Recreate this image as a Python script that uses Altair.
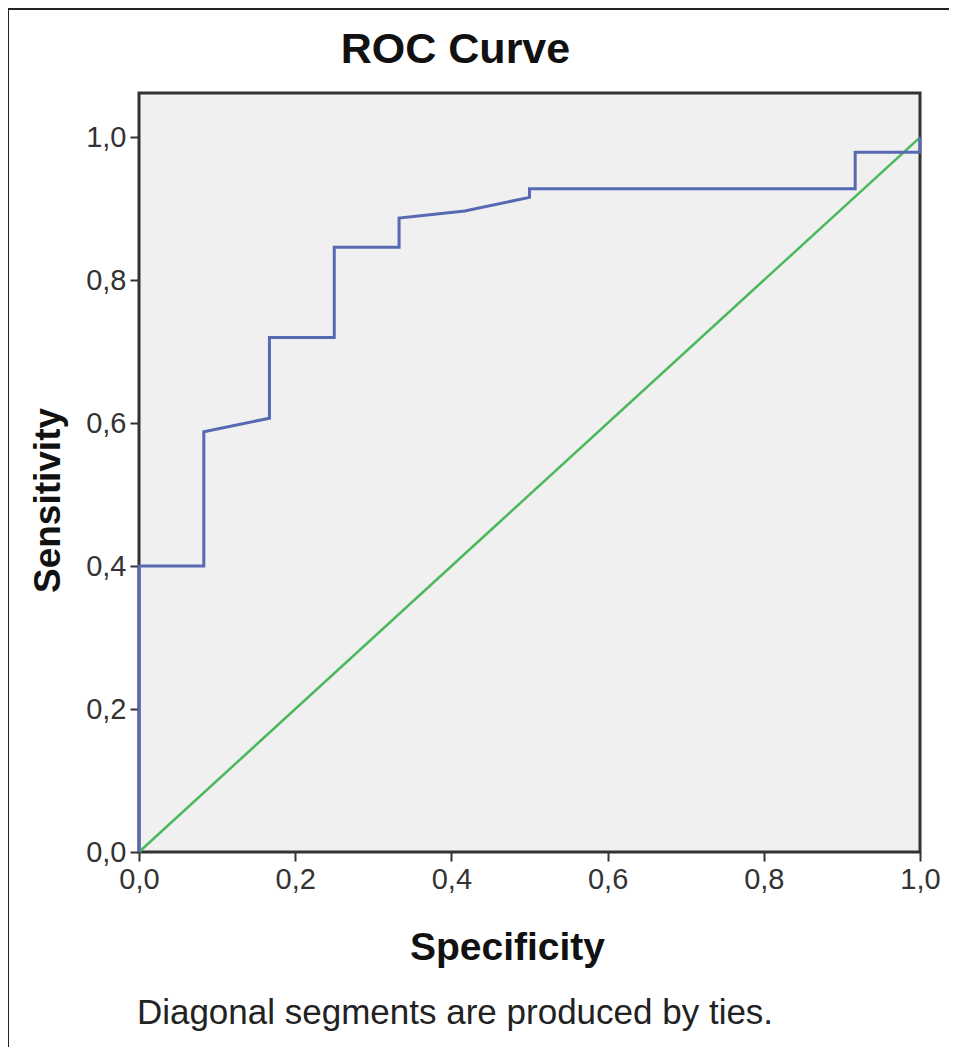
import altair as alt
import pandas as pd

# ROC curve vertices (x = specificity axis as drawn, y = sensitivity)
roc_x = [0.0, 0.0, 0.083, 0.083, 0.167, 0.167, 0.25, 0.25, 0.333, 0.333, 0.417, 0.5, 0.5, 0.917, 0.917, 1.0, 1.0]
roc_y = [0.0, 0.40, 0.40, 0.588, 0.607, 0.72, 0.72, 0.846, 0.846, 0.887, 0.897, 0.916, 0.928, 0.928, 0.979, 0.979, 1.0]

ref_x = [0.0, 1.0]
ref_y = [0.0, 1.0]

tick_values = [0.0, 0.2, 0.4, 0.6, 0.8, 1.0]
title_text = "ROC Curve"
x_title = "Specificity"
y_title = "Sensitivity"
footnote = "Diagonal segments are produced by ties."

roc_df = pd.DataFrame({"x": roc_x, "y": roc_y, "i": list(range(len(roc_x)))})
ref_df = pd.DataFrame({"x": ref_x, "y": ref_y, "i": [0, 1]})
note_df = pd.DataFrame({"t": [footnote]})

FONT = "Liberation Sans"
label_expr = "replace(format(datum.value, '.1f'), '.', ',')"

xs = alt.Scale(domain=[0, 1], nice=False, zero=False)
ys = alt.Scale(domain=[0, 1.062], nice=False, zero=False)

x_axis = alt.Axis(values=tick_values, labelExpr=label_expr, title=x_title, grid=False,
                  domain=False, tickColor="#333333", tickWidth=2, tickSize=9,
                  labelFont=FONT, labelFontSize=29, labelColor="#333333", labelPadding=4,
                  titleFont=FONT, titleFontSize=39, titleFontWeight="bold", titleColor="#111111",
                  titlePadding=34, titleX=368, labelFlush=False)
y_axis = alt.Axis(values=tick_values, labelExpr=label_expr, title=y_title, grid=False,
                  domain=False, tickColor="#333333", tickWidth=2, tickSize=9,
                  labelFont=FONT, labelFontSize=29, labelColor="#333333", labelPadding=4,
                  titleFont=FONT, titleFontSize=37, titleFontWeight="bold", titleColor="#111111",
                  titlePadding=18, titleY=407, labelFlush=False)

ref_line = alt.Chart(ref_df).mark_line(color="#4cb85c", strokeWidth=2.5).encode(
    x=alt.X("x:Q", scale=xs, axis=x_axis),
    y=alt.Y("y:Q", scale=ys, axis=y_axis),
    order="i:Q",
)

roc_line = alt.Chart(roc_df).mark_line(color="#5669b2", strokeWidth=3, strokeJoin="miter").encode(
    x=alt.X("x:Q", scale=xs),
    y=alt.Y("y:Q", scale=ys),
    order="i:Q",
)

note = alt.Chart(note_df).mark_text(font=FONT, fontSize=35, color="#222222",
                                    align="center", baseline="middle").encode(
    x=alt.value(316), y=alt.value(920), text="t:N"
)

border_left = alt.Chart(note_df).mark_rule(color="#222222", strokeWidth=2).encode(
    x=alt.value(-131), y=alt.value(-84), y2=alt.value(970)
)
border_top = alt.Chart(note_df).mark_rule(color="#222222", strokeWidth=2).encode(
    x=alt.value(-131), x2=alt.value(810), y=alt.value(-84)
)

chart = alt.layer(ref_line, roc_line, note, border_left, border_top).properties(
    width=781,
    height=759,
    title=alt.TitleParams(title_text, font=FONT, fontSize=43, fontWeight="bold",
                          color="#111111", anchor="middle", dx=-74, offset=-64),
    autosize=alt.AutoSizeParams(type="none"),
    padding={"left": 131, "top": 85, "right": 29, "bottom": 195},
).configure_view(
    stroke="#333333", strokeWidth=3, fill="#f0f0f0"
)

chart.save("out.html", embed_options={"renderer": "svg", "actions": False})
